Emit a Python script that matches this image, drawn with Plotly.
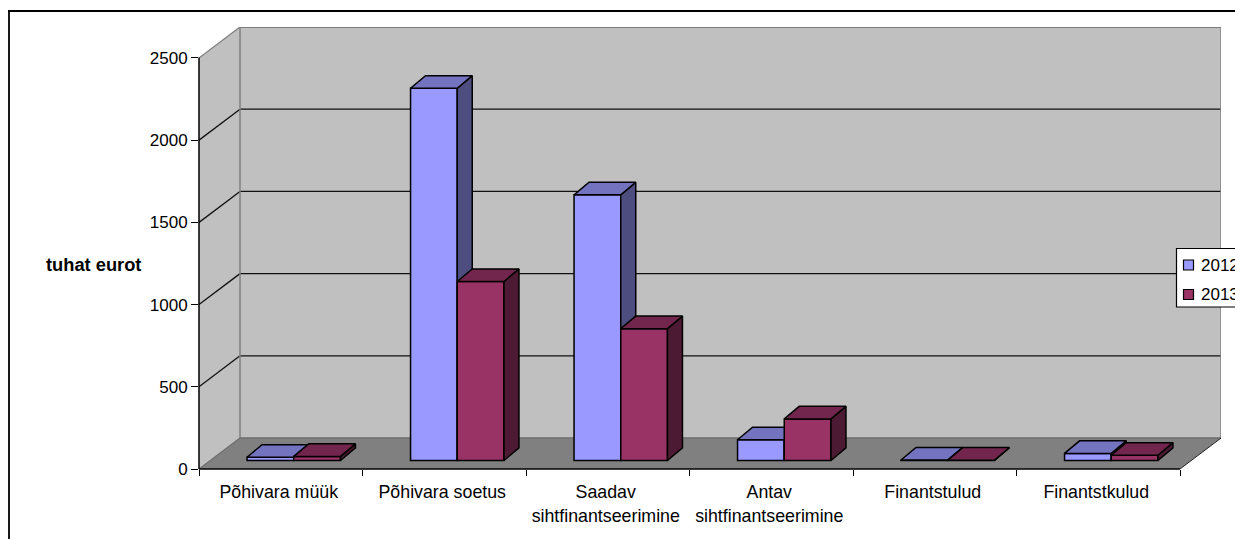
import plotly.graph_objects as go

categories = ["Põhivara müük", "Põhivara soetus", "Saadav<br>sihtfinantseerimine",
              "Antav<br>sihtfinantseerimine", "Finantstulud", "Finantstkulud"]
values_2012 = [20, 2264, 1616, 126, 3, 43]
values_2013 = [25, 1089, 802, 253, 2, 32]
y_ticks = [0, 500, 1000, 1500, 2000, 2500]
series_names = ["2012", "2013"]
axis_title = "tuhat eurot"

W, H = 1235, 539
L, R, T, B = 199, 1221, 27, 469
FONT = "Liberation Sans, Arial, sans-serif"
FS = 17

N = len(categories)
PX_X = (1180 - 199) / N           # px per category
YMAX = 2500
PX_Y = 411.5 / YMAX               # px per unit
WALL_DX = 41 / PX_X
WALL_DY = 31 / PX_Y
BAR_W = 1 / 3.5
FRONT_DX = 13 / PX_X
FRONT_DY = 8.5 / PX_Y
BAR_DX = 15 / PX_X
BAR_DY = 12.6 / PX_Y
LABEL_SHIFT = -2 / PX_X


def pxp(x):   # page px to paper
    return (x - L) / (R - L)


def pyp(y):
    return (B - y) / (B - T)


def poly(pts):
    return "M " + " L ".join(f"{a},{b}" for a, b in pts) + " Z"


GRAY = "#808080"
shapes = []
# walls and floor
shapes.append(dict(type="path", layer="below", xref="x", yref="y", fillcolor="#C0C0C0", line=dict(width=0),
                   path=poly([(0, 0), (WALL_DX, WALL_DY), (WALL_DX, YMAX + WALL_DY), (0, YMAX)])))
shapes.append(dict(type="path", layer="below", xref="x", yref="y", fillcolor="#C0C0C0", line=dict(width=0),
                   path=poly([(WALL_DX, WALL_DY), (N + WALL_DX, WALL_DY), (N + WALL_DX, YMAX + WALL_DY), (WALL_DX, YMAX + WALL_DY)])))
shapes.append(dict(type="path", layer="below", xref="x", yref="y", fillcolor="#808080", line=dict(width=0),
                   path=poly([(0, 0), (N, 0), (N + WALL_DX, WALL_DY), (WALL_DX, WALL_DY)])))


def seg(x0, y0, x1, y1, color, width=1.3):
    shapes.append(dict(type="line", layer="below", xref="x", yref="y", x0=x0, y0=y0, x1=x1, y1=y1,
                       line=dict(color=color, width=width)))


# gridlines
for v in y_ticks[1:-1]:
    seg(0, v, WALL_DX, v + WALL_DY, "#111111")
    seg(WALL_DX, v + WALL_DY, N + WALL_DX, v + WALL_DY, "#111111")
# wall edges
seg(0, YMAX, WALL_DX, YMAX + WALL_DY, GRAY)
seg(WALL_DX, YMAX + WALL_DY, N + WALL_DX, YMAX + WALL_DY, "#666666", 1.6)
seg(WALL_DX, WALL_DY, WALL_DX, YMAX + WALL_DY, GRAY, 1.5)
seg(N + WALL_DX, WALL_DY, N + WALL_DX, YMAX + WALL_DY, GRAY, 1.5)
seg(WALL_DX, WALL_DY, N + WALL_DX, WALL_DY, "#6e6e6e", 1.5)
seg(0, 0, WALL_DX, WALL_DY, "#6e6e6e")
seg(N, 0, N + WALL_DX, WALL_DY, "#222222", 1)


def paper_rect(x0, y0, x1, y1, fill, lw=1.2):
    shapes.append(dict(type="rect", xref="paper", yref="paper", layer="above",
                       x0=pxp(x0), x1=pxp(x1), y0=pyp(y1), y1=pyp(y0),
                       fillcolor=fill, line=dict(color="#000000", width=lw)))


def paper_line(x0, y0, x1, y1, lw=1.8):
    shapes.append(dict(type="line", xref="paper", yref="paper", layer="above",
                       x0=pxp(x0), x1=pxp(x1), y0=pyp(y0), y1=pyp(y1),
                       line=dict(color="#000000", width=lw)))


# axis lines: paper-referenced so they are not clipped at the plot edge
paper_line(L, B - YMAX * PX_Y, L, B, 1.5)
paper_line(L, B, 1180, B, 1.5)
# chart-area frame (runs past the picture on the right and at the bottom)
paper_line(8, 11, 1240, 11)
paper_line(9, 10, 9, 545)

fig = go.Figure()


def add_series(vals, slot, front, top, side, xa, ya, name):
    xs = [i + 0.5 - BAR_W + slot * BAR_W + BAR_W / 2 + FRONT_DX for i in range(N)]
    fig.add_trace(go.Bar(x=xs, y=vals, base=[FRONT_DY] * N, width=BAR_W, name=name,
                         marker=dict(color=front, line=dict(color="#000000", width=1.5)),
                         xaxis=xa, yaxis=ya, showlegend=False, hoverinfo="y"))
    tx, ty, sx, sy = [], [], [], []
    for c, v in zip(xs, vals):
        a, b = c - BAR_W / 2, c + BAR_W / 2
        y0, y1 = FRONT_DY, FRONT_DY + v
        tx += [a, b, b + BAR_DX, a + BAR_DX, a, None]
        ty += [y1, y1, y1 + BAR_DY, y1 + BAR_DY, y1, None]
        sx += [b, b + BAR_DX, b + BAR_DX, b, b, None]
        sy += [y0, y0 + BAR_DY, y1 + BAR_DY, y1, y0, None]
    for X, Y, col in ((sx, sy, side), (tx, ty, top)):
        fig.add_trace(go.Scatter(x=X, y=Y, mode="lines", fill="toself", fillcolor=col,
                                 line=dict(color="#000000", width=1.5), xaxis=xa, yaxis=ya,
                                 showlegend=False, hoverinfo="skip"))


add_series(values_2012, 0, "#9999FF", "#7373BF", "#4D4D80", "x", "y", series_names[0])
add_series(values_2013, 1, "#993366", "#73264D", "#4D1A33", "x2", "y2", series_names[1])

# legend box
paper_rect(1176.5, 248.5, 1245, 307, "#FFFFFF")
paper_rect(1183.5, 260, 1193.5, 270, "#9999FF")
paper_rect(1183.5, 289.5, 1193.5, 299.5, "#993366")

annotations = [
    dict(xref="paper", yref="paper", x=pxp(1199), y=pyp(265), text=series_names[0], showarrow=False,
         xanchor="left", yanchor="middle", font=dict(family=FONT, size=FS, color="#000000")),
    dict(xref="paper", yref="paper", x=pxp(1199), y=pyp(294.5), text=series_names[1], showarrow=False,
         xanchor="left", yanchor="middle", font=dict(family=FONT, size=FS, color="#000000")),
    dict(xref="paper", yref="paper", x=pxp(93), y=pyp(264), text=f"<b>{axis_title}</b>", showarrow=False,
         xanchor="center", yanchor="middle", font=dict(family=FONT, size=18.3, color="#000000")),
]

x_range = [0, N + WALL_DX]
y_range = [0, YMAX + WALL_DY]
fig.update_layout(
    width=W, height=H, autosize=False, paper_bgcolor="#FFFFFF", plot_bgcolor="#FFFFFF",
    margin=dict(l=L, r=W - R, t=T, b=H - B, pad=0, autoexpand=False),
    showlegend=False, barmode="overlay", shapes=shapes, annotations=annotations,
    font=dict(family=FONT, size=FS, color="#000000"),
    xaxis=dict(range=x_range, showgrid=False, zeroline=False, showline=False,
               tickmode="array", tickvals=[i + 0.5 + LABEL_SHIFT for i in range(N)], ticktext=categories,
               ticks="outside", ticklen=7, tickcolor="rgba(0,0,0,0)", tickangle=0,
               tickfont=dict(family=FONT, size=17.8, color="#000000"),
               minor=dict(tickmode="array", tickvals=list(range(N + 1)), ticks="outside", ticklen=6,
                          tickwidth=1.3, tickcolor="#000000", showgrid=False)),
    yaxis=dict(range=y_range, showgrid=False, zeroline=False, showline=False,
               tickmode="array", tickvals=y_ticks, ticks="outside", ticklen=7, tickwidth=1.3,
               tickcolor="#000000"),
    xaxis2=dict(range=x_range, overlaying="x", visible=False),
    yaxis2=dict(range=y_range, overlaying="y", visible=False),
)

fig.write_html("out.html", config=dict(displayModeBar=False),
               post_script="document.body.style.margin='0';document.body.style.overflow='hidden';")
